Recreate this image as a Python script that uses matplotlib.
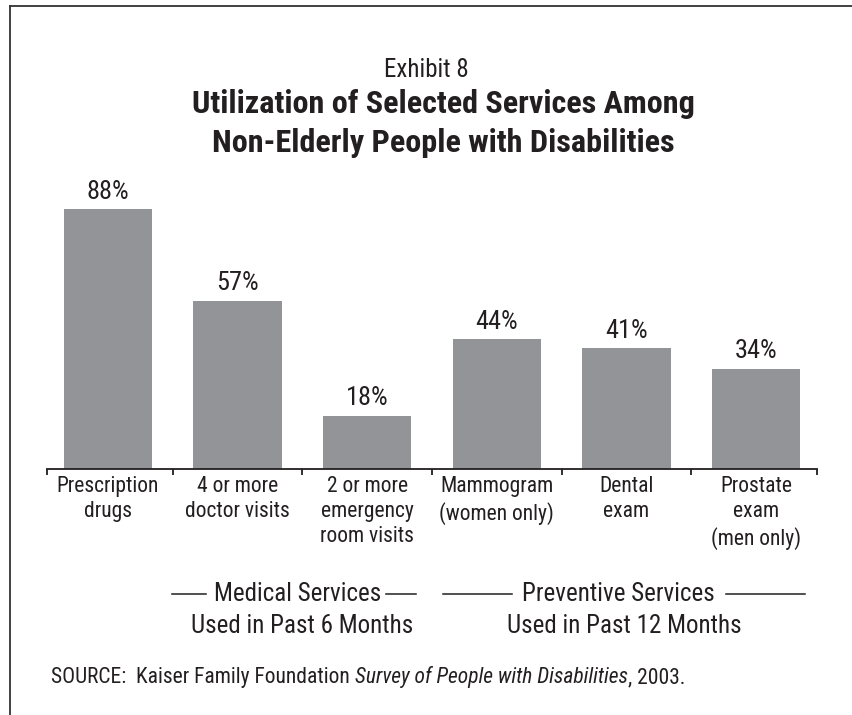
import matplotlib.pyplot as plt
from matplotlib.lines import Line2D
import numpy as np

plt.rcParams['font.family'] = ['Roboto Condensed', 'DejaVu Sans']

W, H = 852, 715
INK = '#231f20'
BAR = '#929497'

categories = ['Prescription\ndrugs', '4 or more\ndoctor visits',
              '2 or more\nemergency\nroom visits', 'Mammogram\n(women only)',
              'Dental\nexam', 'Prostate\nexam\n(men only)']
values = [88, 57, 18, 44, 41, 34]


def fx(x):
    return x / W


def fy(y):
    return 1 - y / H


fig = plt.figure(figsize=(W / 100, H / 100), dpi=100)

# plot area: baseline at y=469 px, 0..100 scale
ax = fig.add_axes([fx(47), fy(469), fx(817) - fx(47), (469 - 174) / H])
x = np.arange(len(values))
ax.bar(x, values, width=0.68, color=BAR, zorder=2)
for xi, v in zip(x, values):
    ax.annotate(f'{v}%', (xi, v), xytext=(0, 7.5), textcoords='offset points',
                ha='center', va='baseline', fontsize=19, color=INK)

ax.set_xlim(-0.47, 5.47)
ax.set_ylim(0, 100)
for s in ['top', 'right', 'left']:
    ax.spines[s].set_visible(False)
ax.spines['bottom'].set_color(INK)
ax.spines['bottom'].set_linewidth(1.3)
ax.set_yticks([])
ax.set_xticks([-0.47, 0.5, 1.5, 2.5, 3.5, 4.5, 5.47])
ax.set_xticklabels([])
ax.tick_params(axis='x', which='major', direction='out', length=4,
               width=1.3, color=INK)
ax.set_xticks(x, minor=True)
ax.set_xticklabels(categories, minor=True, fontsize=15.5, color=INK,
                   linespacing=1.26)
ax.tick_params(axis='x', which='minor', length=0, pad=5)

# frame lines (top and left)
fig.add_artist(Line2D([fx(10), fx(10)], [fy(6), 0], color='#333333', lw=1.3))
fig.add_artist(Line2D([fx(10), 1], [fy(6), fy(6)], color='#333333', lw=1.3))

fig.text(fx(426), fy(77), 'Exhibit 8', ha='center', va='baseline',
         fontsize=18, color=INK)
fig.text(fx(443), fy(113), 'Utilization of Selected Services Among',
         ha='center', va='baseline', fontsize=23.2, fontweight='bold',
         color=INK)
fig.text(fx(443), fy(152), 'Non-Elderly People with Disabilities',
         ha='center', va='baseline', fontsize=23.2, fontweight='bold',
         color=INK)

# group headings with rule segments
fig.text(fx(298), fy(601), 'Medical Services', ha='center', va='baseline',
         fontsize=18, color=INK)
fig.text(fx(302), fy(633), 'Used in Past 6 Months', ha='center',
         va='baseline', fontsize=18, color=INK)
fig.text(fx(618), fy(601), 'Preventive Services', ha='center',
         va='baseline', fontsize=18, color=INK)
fig.text(fx(624), fy(633), 'Used in Past 12 Months', ha='center',
         va='baseline', fontsize=18, color=INK)
for x0, x1 in [(172, 206), (386, 416), (443, 512), (726, 805)]:
    fig.add_artist(Line2D([fx(x0), fx(x1)], [fy(594), fy(594)],
                          color=INK, lw=1.1))

# source line, italic title in the middle
t1 = fig.text(fx(51), fy(683), 'SOURCE:  Kaiser Family Foundation ',
              ha='left', va='baseline', fontsize=15.5, color=INK)
fig.canvas.draw()
t2 = fig.text(t1.get_window_extent().x1 / W, fy(683),
              'Survey of People with Disabilities', ha='left',
              va='baseline', fontsize=15.5, style='italic', color=INK)
fig.canvas.draw()
fig.text(t2.get_window_extent().x1 / W, fy(683), ', 2003.', ha='left',
         va='baseline', fontsize=15.5, color=INK)

fig.savefig('out.png', dpi=100)
